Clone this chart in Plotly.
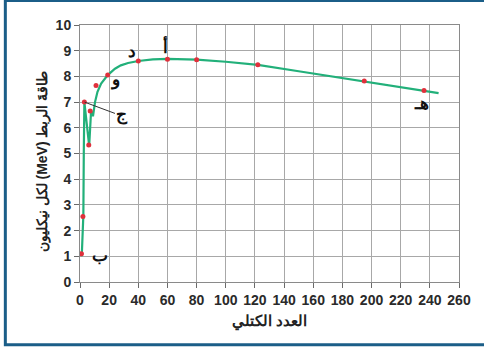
import plotly.graph_objects as go

# Data points (mass number, binding energy per nucleon MeV)
mass_numbers = [1, 2, 3, 6, 7, 11, 19, 40, 60, 80, 122, 195, 236]
binding_energy = [1.1, 2.55, 7.0, 5.33, 6.65, 7.65, 8.05, 8.6, 8.67, 8.65, 8.45, 7.82, 7.45]

# Curve
curve_x = [1.2, 2.3, 2.6, 3.0, 6.3, 7.6, 8.9, 10.3, 12, 14.5, 19, 24, 28, 33, 40, 50, 60, 70, 80, 100, 122, 150, 175, 195, 220, 246]
curve_y = [1.0, 2.6, 5.0, 7.0, 5.3, 6.65, 6.45, 7.0, 7.4, 7.72, 8.05, 8.3, 8.43, 8.52, 8.6, 8.66, 8.68, 8.67, 8.65, 8.57, 8.45, 8.2, 7.98, 7.82, 7.58, 7.35]

x_ticks = list(range(0, 261, 20))
y_ticks = list(range(0, 11))

label_texts = ["ب", "ج", "و", "د", "أ", "هـ"]
label_x = [13.4, 29.0, 23.7, 36.0, 58.5, 234.3]
label_y = [1.05, 6.5, 7.86, 8.96, 9.2, 6.95]

x_title = "العدد الكتلي"
y_title = "\u202bطاقةَ الربط (MeV) لكل نيكليون\u202c"

font_family = "Liberation Sans, Arial, sans-serif"

fig = go.Figure()
fig.add_trace(go.Scatter(x=curve_x, y=curve_y, mode="lines",
                         line=dict(color="#22b07a", width=2.2, shape="linear"),
                         hoverinfo="skip", showlegend=False))
fig.add_trace(go.Scatter(x=mass_numbers, y=binding_energy, mode="markers",
                         marker=dict(color="#e0303c", size=5),
                         showlegend=False))

# leader line for ج
fig.add_shape(type="line", x0=3.1, y0=7.0, x1=24.0, y1=6.56,
              line=dict(color="#333333", width=1))

for t, x, y in zip(label_texts, label_x, label_y):
    fig.add_annotation(x=x, y=y, text=t, showarrow=False,
                       font=dict(family=font_family, size=17, color="#111111", weight="bold"))

# titles
fig.add_annotation(x=0.5, y=-0.155, xref="paper", yref="paper", text=x_title,
                   showarrow=False, yanchor="middle",
                   font=dict(family=font_family, size=15, color="#222222", weight="bold"))
fig.add_annotation(x=-0.1, y=0.47, xref="paper", yref="paper", text=y_title,
                   showarrow=False, textangle=-90, xanchor="center",
                   font=dict(family=font_family, size=14, color="#222222", weight="bold"))

# border frame
fig.add_shape(type="rect", xref="paper", yref="paper",
              x0=-0.197, x1=1.08, y0=-0.244, y1=1.095,
              line=dict(color="#1b5e88", width=3), fillcolor="rgba(0,0,0,0)")

axis_common = dict(showgrid=True, gridcolor="#a8a8a8", gridwidth=1,
                   showline=True, linecolor="#8a8a8a", linewidth=1,
                   ticks="outside", ticklen=5, tickcolor="#6a6a6a",
                   zeroline=False,
                   tickfont=dict(family=font_family, size=14, color="#2a2a2a", weight="bold"))

fig.update_xaxes(range=[0, 260], tickvals=x_ticks, mirror=True, **axis_common)
fig.update_yaxes(range=[0, 10], tickvals=y_ticks, mirror=True, **axis_common)

fig.update_layout(width=484, height=348,
                  margin=dict(l=80, r=25, t=25, b=66),
                  plot_bgcolor="white", paper_bgcolor="white")

fig.write_html("out.html", config={"displayModeBar": False},
               post_script="document.body.style.margin='0';document.body.style.overflow='hidden';")
